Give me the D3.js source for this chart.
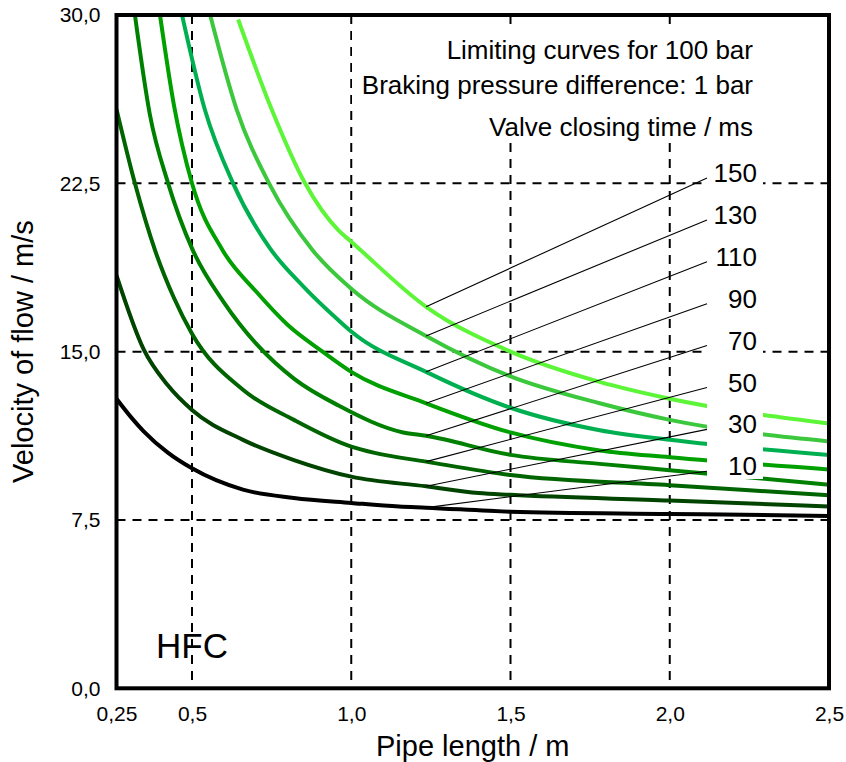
<!DOCTYPE html>
<html>
<head>
<meta charset="utf-8">
<script src="https://cdn.jsdelivr.net/npm/d3@7/dist/d3.min.js"></script>
<style>
  body { margin: 0; background: #fff; }
  svg { display: block; }
</style>
</head>
<body>
<svg id="chart" width="846" height="762"></svg>
<script>
// Valve closing times (ms), one limiting curve each
const closingTimes = [10, 30, 50, 70, 90, 110, 130, 150];

// Pipe length (m) and velocity of flow (m/s) along each limiting curve
const len10  = [0.25, 0.3, 0.34, 0.42, 0.5, 0.66, 0.82, 1.0, 1.15, 1.235, 1.5, 2.0, 2.5];
const vel10  = [12.9, 12.05, 11.45, 10.5, 9.8, 8.85, 8.48, 8.26, 8.1, 8.05, 7.87, 7.77, 7.68];

const len30  = [0.25, 0.34, 0.42, 0.5, 0.66, 0.82, 1.0, 1.235, 1.4, 1.5, 2.0, 2.5];
const vel30  = [18.4, 15.1, 13.5, 12.4, 11.07, 10.17, 9.43, 9.0, 8.7, 8.62, 8.37, 8.1];

const len50  = [0.25, 0.311, 0.378, 0.44, 0.5, 0.66, 0.82, 1.0, 1.07, 1.235, 1.5, 2.0, 2.5];
const vel50  = [25.8, 22.5, 19.5, 17.4, 15.8, 13.3, 11.96, 10.77, 10.5, 10.1, 9.5, 9.05, 8.6];

const len70  = [0.311, 0.36, 0.421, 0.5, 0.6, 0.705, 0.82, 0.96, 1.163, 1.235, 1.5, 1.78, 2.0, 2.5];
const vel70  = [30, 25.6, 22.5, 19.6, 17.2, 15.3, 13.8, 12.6, 11.4, 11.25, 10.4, 10.0, 9.72, 9.07];

const len90  = [0.394, 0.44, 0.5, 0.597, 0.7, 0.8, 0.91, 1.0, 1.235, 1.5, 1.78, 2.0, 2.5];
const vel90  = [30, 26.0, 22.5, 19.5, 17.7, 16.2, 15.0, 14.1, 12.7, 11.4, 10.6, 10.3, 9.75];

const len110 = [0.467, 0.54, 0.629, 0.745, 0.85, 0.96, 1.0, 1.235, 1.5, 1.78, 2.0, 2.5];
const vel110 = [30, 25.8, 22.5, 19.6, 17.9, 16.4, 15.9, 14.1, 12.5, 11.5, 11.07, 10.4];

const len130 = [0.557, 0.64, 0.742, 0.88, 1.0, 1.235, 1.5, 1.78, 2.0, 2.5];
const vel130 = [30, 25.8, 22.5, 19.5, 17.8, 15.7, 13.9, 12.7, 11.96, 11.0];

const len150 = [0.645, 0.75, 0.855, 0.96, 1.0, 1.235, 1.5, 1.78, 2.0, 2.5];
const vel150 = [29.8, 25.8, 22.5, 20.4, 19.9, 17.0, 15.0, 13.65, 12.9, 11.8];

// Axis ticks and labels
const xTicks = [0.25, 0.5, 1.0, 1.5, 2.0, 2.5];
const xTickLabels = ["0,25", "0,5", "1,0", "1,5", "2,0", "2,5"];
const yTicks = [0, 7.5, 15, 22.5, 30];
const yTickLabels = ["0,0", "7,5", "15,0", "22,5", "30,0"];
const xGrid = [0.5, 1.0, 1.5, 2.0];
const yGrid = [7.5, 15, 22.5];

// Pipe length where the label leaders meet the curves
const leaderLength = 1.235;

const notes = ["Limiting curves for 100 bar", "Braking pressure difference: 1 bar"];
const legendTitle = "Valve closing time / ms";

// ---------------------------------------------------------------------
const lengths = [len10, len30, len50, len70, len90, len110, len130, len150];
const velocities = [vel10, vel30, vel50, vel70, vel90, vel110, vel130, vel150];
const series = closingTimes.map((t, i) => ({
  time: t,
  points: lengths[i].map((L, j) => ({ L, v: velocities[i][j] }))
}));

const FONT = "'Liberation Sans', Arial, Helvetica, sans-serif";
const plot = { left: 116.5, right: 829, top: 15, bottom: 688.3 };

const x = d3.scaleLinear().domain([0.25, 0.5, 2.5]).range([plot.left, 192, plot.right]);
const y = d3.scaleLinear().domain([0, 30]).range([plot.bottom, plot.top]);

const color = d3.scaleOrdinal()
  .domain(closingTimes)
  .range(["#000000", "#004400", "#006400", "#008000", "#00a000", "#00b050", "#3cc83c", "#5cf537"]);

const svg = d3.select("#chart");

svg.append("defs").append("clipPath").attr("id", "plot-clip")
  .append("rect")
  .attr("x", plot.left).attr("y", plot.top)
  .attr("width", plot.right - plot.left).attr("height", plot.bottom - plot.top);

// Dashed grid
const grid = svg.append("g").attr("stroke", "#000").attr("stroke-width", 2)
  .attr("stroke-dasharray", "9,7");
grid.selectAll("line.v").data(xGrid).join("line").attr("class", "v")
  .attr("x1", d => x(d)).attr("x2", d => x(d))
  .attr("y1", plot.top).attr("y2", plot.bottom);
grid.selectAll("line.h").data(yGrid).join("line").attr("class", "h")
  .attr("x1", plot.left).attr("x2", plot.right)
  .attr("y1", d => y(d)).attr("y2", d => y(d));

// Limiting curves
const line = d3.line().x(d => x(d.L)).y(d => y(d.v)).curve(d3.curveMonotoneX);
svg.append("g").attr("clip-path", "url(#plot-clip)")
  .selectAll("path").data(series).join("path")
  .attr("d", d => line(d.points))
  .attr("fill", "none")
  .attr("stroke", d => color(d.time))
  .attr("stroke-width", 4)
  .attr("stroke-linejoin", "round");

// White panels behind the text blocks
const panels = svg.append("g").attr("fill", "#fff");
panels.append("rect").attr("x", 352).attr("y", 30).attr("width", 408).attr("height", 74);
panels.append("rect").attr("x", 474).attr("y", 108).attr("width", 286).attr("height", 35);
panels.append("rect").attr("x", 707).attr("y", 150).attr("width", 56).attr("height", 329);

// Note text
const noteG = svg.append("g").attr("font-family", FONT).attr("font-size", 26)
  .attr("text-anchor", "end").attr("fill", "#000");
noteG.selectAll("text.note").data(notes).join("text").attr("class", "note")
  .attr("x", 753).attr("y", (d, i) => 59 + i * 35).text(d => d);
noteG.append("text").attr("x", 753).attr("y", 136).text(legendTitle);

// Curve labels with leader lines
const labelTop = 178, labelStep = 41.9, labelX = 707;
const ordered = series.slice().reverse(); // 150 at the top
const leaders = svg.append("g");
ordered.forEach((s, i) => {
  const p = s.points.find(d => d.L === leaderLength);
  const ly = labelTop + i * labelStep;
  leaders.append("line")
    .attr("x1", x(p.L)).attr("y1", y(p.v))
    .attr("x2", labelX).attr("y2", ly)
    .attr("stroke", "#000").attr("stroke-width", 1.1);
  leaders.append("text")
    .attr("x", 757).attr("y", ly + 4)
    .attr("text-anchor", "end")
    .attr("font-family", FONT).attr("font-size", 26)
    .text(s.time);
});

// Axes (labels only, the frame is drawn separately)
const xAxis = d3.axisBottom(x).tickValues(xTicks)
  .tickFormat((d, i) => xTickLabels[i]).tickSize(0).tickPadding(18);
const gx = svg.append("g").attr("transform", `translate(0,${plot.bottom})`).call(xAxis);
gx.select(".domain").remove();
gx.attr("font-family", FONT).attr("font-size", 21);

const yAxis = d3.axisLeft(y).tickValues(yTicks)
  .tickFormat((d, i) => yTickLabels[i]).tickSize(0).tickPadding(16);
const gy = svg.append("g").attr("transform", `translate(${plot.left},0)`).call(yAxis);
gy.select(".domain").remove();
gy.attr("font-family", FONT).attr("font-size", 21);

// Axis titles
svg.append("text")
  .attr("x", (plot.left + plot.right) / 2).attr("y", 756)
  .attr("text-anchor", "middle").attr("font-family", FONT).attr("font-size", 29)
  .text("Pipe length / m");
svg.append("text")
  .attr("transform", `translate(33,${(plot.top + plot.bottom) / 2}) rotate(-90)`)
  .attr("text-anchor", "middle").attr("font-family", FONT).attr("font-size", 29)
  .text("Velocity of flow / m/s");

// Fluid label
svg.append("text").attr("x", 156).attr("y", 658)
  .attr("font-family", FONT).attr("font-size", 35).text("HFC");

// Frame
svg.append("rect")
  .attr("x", plot.left).attr("y", plot.top)
  .attr("width", plot.right - plot.left).attr("height", plot.bottom - plot.top)
  .attr("fill", "none").attr("stroke", "#000").attr("stroke-width", 4);
</script>
</body>
</html>
